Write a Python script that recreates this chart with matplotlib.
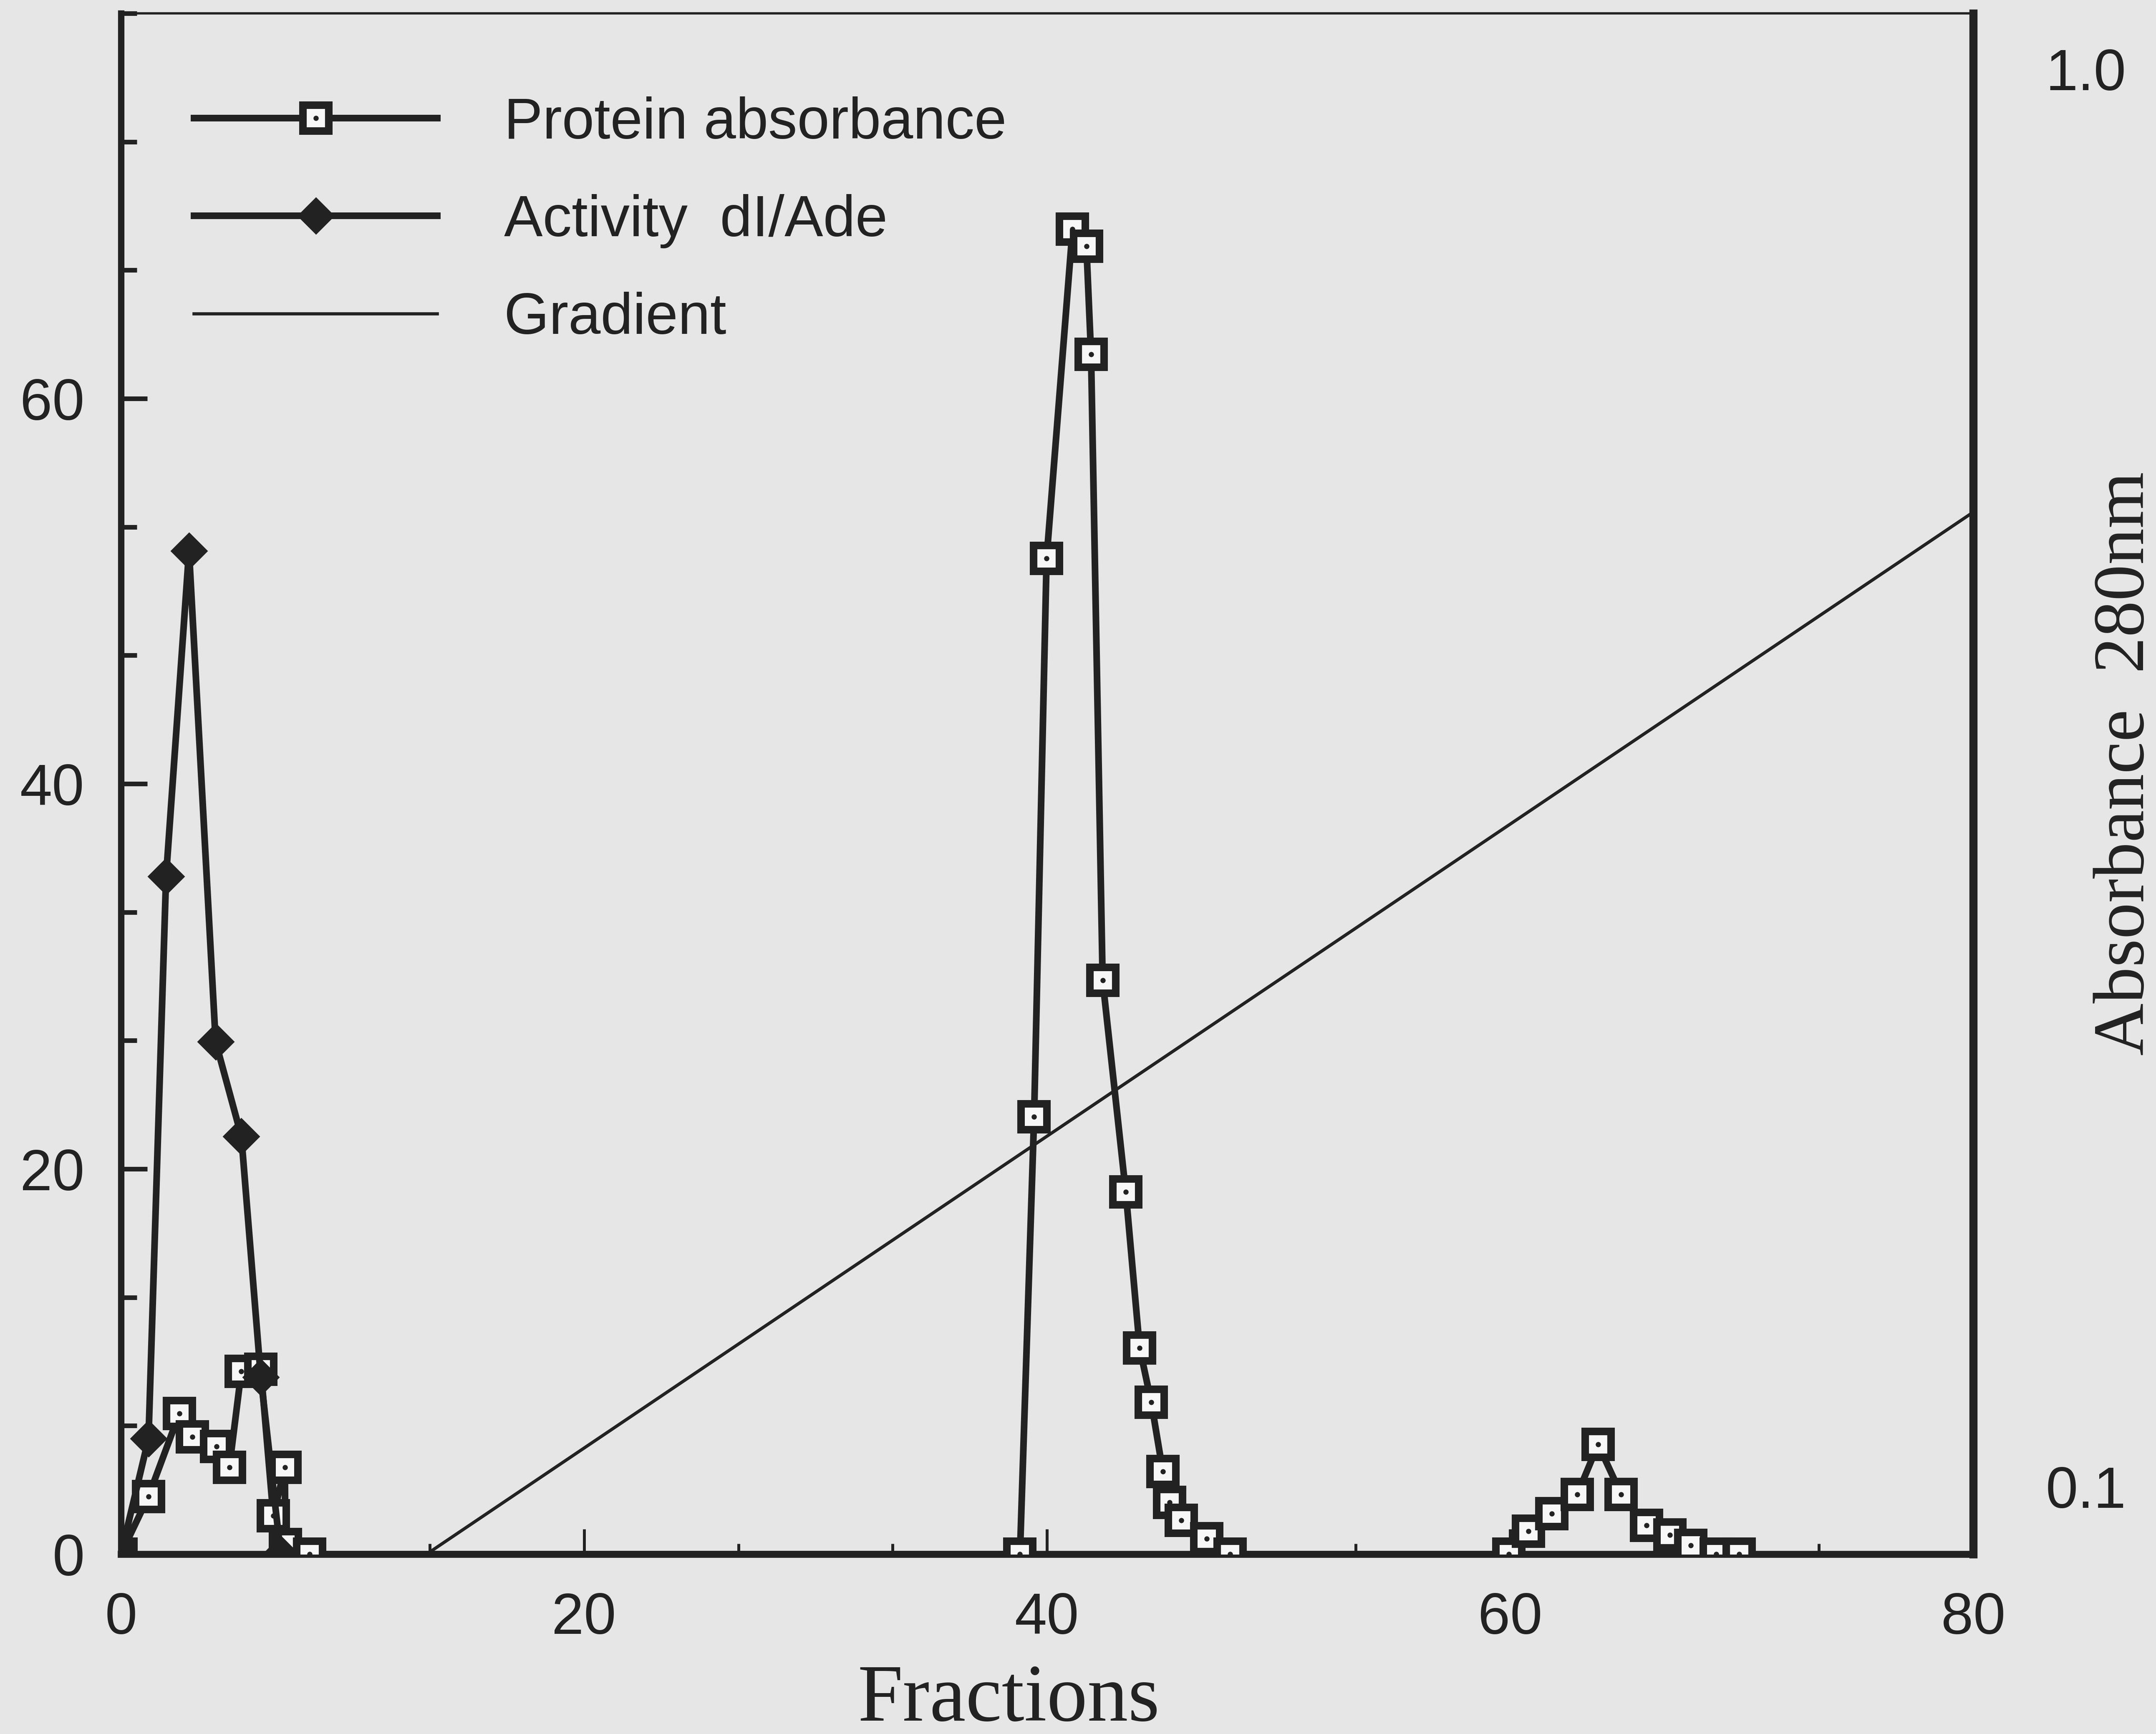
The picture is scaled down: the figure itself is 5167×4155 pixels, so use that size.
import matplotlib
matplotlib.use("Agg")
import matplotlib.pyplot as plt
from matplotlib.ticker import MultipleLocator, NullLocator, NullFormatter, FixedLocator
from matplotlib.legend_handler import HandlerTuple

# fractions / values
protein_x = [0, 1.19, 2.52, 3.08, 4.13, 4.68, 5.2, 6.04, 6.58, 7.08, 7.1, 8.14,
             38.83, 39.44, 39.98, 41.1, 41.7, 41.9, 42.4, 43.4, 44.0, 44.5, 45.0, 45.3, 45.8, 46.9, 47.9,
             59.95, 60.8, 61.8, 62.9, 63.8, 64.8, 65.9, 66.9, 67.8, 68.9, 69.9]
protein_y = [0, 3.0, 7.3, 6.1, 5.6, 4.5, 9.5, 9.6, 2.0, 4.5, 0.5, 0,
             0, 22.7, 51.7, 68.8, 67.9, 62.3, 29.8, 18.8, 10.7, 7.9, 4.3, 2.7, 1.75, 0.8, 0,
             0, 1.2, 2.1, 3.1, 5.7, 3.1, 1.5, 1.0, 0.45, 0, 0]

activity_x = [0, 1.19, 1.95, 2.94, 4.09, 5.2, 6.04, 6.9]
activity_y = [0, 6.0, 35.2, 52.1, 26.6, 21.7, 9.2, 0]

gradient_x = [0, 13.2, 80]
gradient_y = [0, 0, 54.1]

x_ticks = [0, 20, 40, 60, 80]
y_ticks = [0, 20, 40, 60]
abs_ticks = [0.1, 1.0]
abs_labels = ["0.1", "1.0"]

bg = "#e6e6e6"
ink = "#222222"

fig = plt.figure(figsize=(51.67, 41.55), dpi=100, facecolor=bg)
ax = fig.add_axes([0.0561, 0.1037, 0.9152 - 0.0561, 0.9923 - 0.1037])
ax.set_facecolor(bg)

grad_line, = ax.plot(gradient_x, gradient_y, color=ink, lw=5.5, zorder=2)
prot_line, = ax.plot(protein_x, protein_y, color=ink, lw=11.5, marker="s", ms=44,
                     mfc="#f7f7f7", mec=ink, mew=13, zorder=3)
dot_line, = ax.plot(protein_x, protein_y, ls="none", marker="o", ms=8, color=ink, zorder=4)
act_line, = ax.plot(activity_x, activity_y, color=ink, lw=11.5, marker="D", ms=44,
                    mfc=ink, mec=ink, mew=2, zorder=5)

ax.set_xlim(0, 80)
ax.set_ylim(0, 80)
ax.xaxis.set_major_locator(FixedLocator(x_ticks))
ax.yaxis.set_major_locator(FixedLocator(y_ticks))
ax.xaxis.set_minor_locator(MultipleLocator(20 / 3))
ax.yaxis.set_minor_locator(MultipleLocator(20 / 3))

for lab in ax.get_xticklabels() + ax.get_yticklabels():
    lab.set_family("Liberation Sans")
ax.tick_params(axis="both", which="major", direction="in", labelsize=100,
               colors=ink, width=8)
ax.tick_params(axis="y", which="major", length=45, pad=63)
ax.tick_params(axis="x", which="major", length=43, pad=65, width=5)
ax.tick_params(axis="y", which="minor", direction="in", length=27, width=8, colors=ink)
ax.tick_params(axis="x", which="minor", direction="in", length=18, width=5, colors=ink)
ax.tick_params(top=False, right=False, which="both")

ax.spines["top"].set_linewidth(4)
ax.spines["left"].set_linewidth(11)
ax.spines["bottom"].set_linewidth(12)
ax.spines["right"].set_linewidth(14)
for s in ax.spines.values():
    s.set_color(ink)

# right-hand absorbance scale
ax2 = ax.twinx()
ax2.set_yscale("log")
ax2.set_ylim(0.0896, 1.095)
ax2.yaxis.set_major_locator(FixedLocator(abs_ticks))
ax2.set_yticklabels(abs_labels, family="Liberation Sans")
ax2.yaxis.set_minor_locator(NullLocator())
ax2.yaxis.set_minor_formatter(NullFormatter())
ax2.tick_params(axis="y", length=0, pad=125, labelsize=100, colors=ink)
for s in ax2.spines.values():
    s.set_visible(False)

fig.text(2417 / 5167, 1 - 4076 / 4155, "Fractions", family="Liberation Serif",
         fontsize=140, color=ink, ha="center", va="center")
fig.text(5095 / 5167, 1 - 1830 / 4155, "Absorbance  280nm", family="Liberation Serif",
         fontsize=125, color=ink, ha="center", va="center", rotation=90)

leg = ax.legend([(prot_line, dot_line), act_line, grad_line],
                ["Protein absorbance", "Activity  dI/Ade", "Gradient"],
                handler_map={tuple: HandlerTuple(ndivide=1)},
                loc="center left", bbox_to_anchor=(465 / 5167, 1 - 530 / 4155),
                bbox_transform=fig.transFigure, frameon=False,
                prop={"family": "Liberation Sans", "size": 100},
                handlelength=4.2, handletextpad=1.15, labelspacing=0.75,
                borderpad=0, borderaxespad=0)
for t in leg.get_texts():
    t.set_color(ink)

fig.savefig("out.png", dpi=100, facecolor=bg)
